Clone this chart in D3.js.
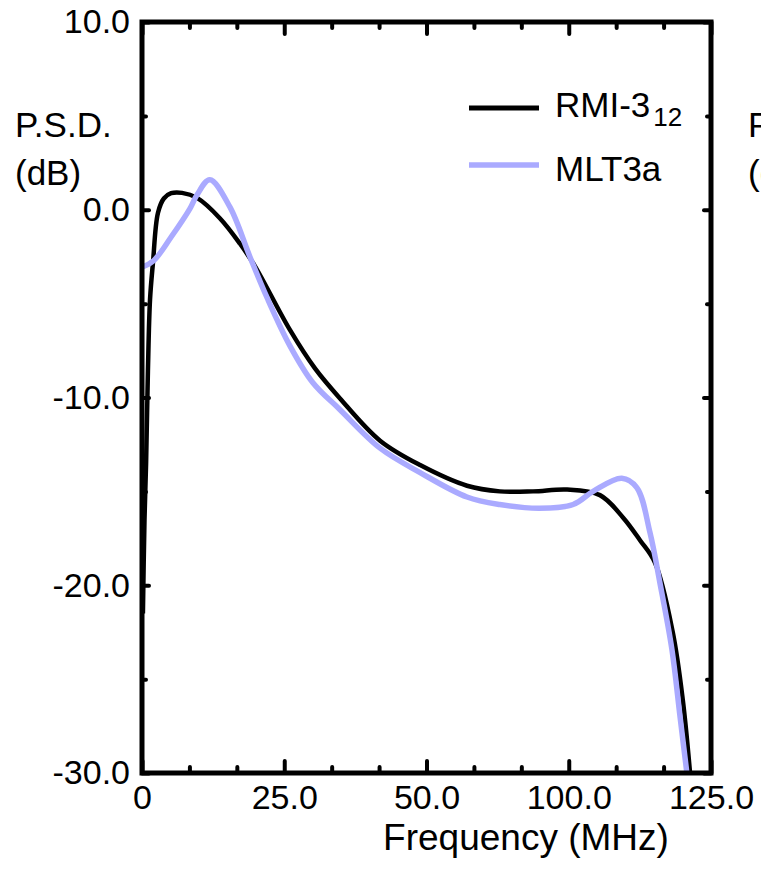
<!DOCTYPE html>
<html>
<head>
<meta charset="utf-8">
<script src="https://cdn.jsdelivr.net/npm/d3@7"></script>
<style>
  body { margin: 0; background: #fff; }
  svg { font-family: "Liberation Sans", Arial, sans-serif; }
</style>
</head>
<body>
<div id="chart"></div>
<script>
// data (x in plot units 0..125, y in dB)
var rmiX = [0.2, 0.55, 0.9, 1.3, 1.76, 2.4, 3.5, 4.8, 6.4, 8.8, 12.1, 17.1, 21.5, 24.8, 32.5, 38, 43.5, 52.3, 61.1, 71.4, 78.6, 85.9, 93.4, 100.6, 105.7, 109.4, 112.7, 116.6, 118.8, 120.4];
var rmiY = [-21.5, -16.5, -13.5, -8.6, -4.8, -2.85, -0.17, 0.6, 0.88, 0.9, 0.63, -0.45, -1.8, -3.0, -6.4, -8.45, -10.05, -12.3, -13.6, -14.7, -15.0, -15.0, -14.9, -15.2, -16.4, -17.6, -18.8, -22.5, -26.1, -30];
var mltX = [0.1, 2.6, 6.4, 10.5, 12.1, 14.9, 19.3, 23.7, 27.5, 32.5, 37.5, 43.5, 52.3, 61.1, 71.4, 78.6, 87.4, 94.7, 99.1, 105.4, 108.7, 111.6, 113.8, 116.4, 118.2, 119.7];
var mltY = [-3.05, -2.7, -1.45, 0.05, 0.8, 1.6, 0.15, -2.5, -4.7, -7.25, -9.2, -10.65, -12.7, -14.0, -15.3, -15.7, -15.9, -15.7, -15.0, -14.3, -14.8, -17.2, -19.9, -23.4, -27, -30];

var xTickLabels = ['0', '25.0', '50.0', '100.0', '125.0'];
var yTickValues = [10, 0, -10, -20, -30];
var seriesNames = ['RMI-3', 'MLT3a'];
var seriesColors = ['#000000', '#aaaaff'];

// set the dimensions of the plot box
var svgWidth = 761, svgHeight = 870;
var plotLeft = 142, plotRight = 711, plotTop = 22, plotBottom = 773;

var svg = d3.select('#chart').append('svg')
    .attr('width', svgWidth)
    .attr('height', svgHeight);

var x = d3.scaleLinear().domain([0, 125]).range([plotLeft, plotRight]);
var y = d3.scaleLinear().domain([-30, 10]).range([plotBottom, plotTop]);

var xMajor = d3.range(0, 5).map(i => i * 125 / 4);
var xMinor = d3.range(0, 13).map(i => i * 125 / 12).filter((d, i) => i % 3 != 0);
var yMinor = [5, -5, -15, -25];

var tickFs = 34, textFs = 35;

// bottom axis
var bottomAxis = d3.axisBottom(x)
    .tickValues(xMajor)
    .tickFormat((d, i) => xTickLabels[i])
    .tickSizeInner(-12).tickSizeOuter(0).tickPadding(12);
svg.append('g')
    .attr('transform', `translate(0, ${plotBottom})`)
    .call(bottomAxis);

// left axis (plain hyphen for the minus sign)
var leftAxis = d3.axisLeft(y)
    .tickValues(yTickValues)
    .tickFormat(d => d.toFixed(1))
    .tickSizeInner(-7).tickSizeOuter(0).tickPadding(12);
svg.append('g')
    .attr('transform', `translate(${plotLeft}, 0)`)
    .call(leftAxis);

// top and right axes, ticks only
svg.append('g')
    .attr('transform', `translate(0, ${plotTop})`)
    .call(d3.axisTop(x).tickValues(xMajor).tickFormat('').tickSizeInner(-12).tickSizeOuter(0));
svg.append('g')
    .attr('transform', `translate(${plotRight}, 0)`)
    .call(d3.axisRight(y).tickValues(yTickValues).tickFormat('').tickSizeInner(-7).tickSizeOuter(0));

// minor ticks
svg.append('g').attr('transform', `translate(0, ${plotBottom})`)
    .call(d3.axisBottom(x).tickValues(xMinor).tickFormat('').tickSizeInner(-6).tickSizeOuter(0));
svg.append('g').attr('transform', `translate(0, ${plotTop})`)
    .call(d3.axisTop(x).tickValues(xMinor).tickFormat('').tickSizeInner(-6).tickSizeOuter(0));
svg.append('g').attr('transform', `translate(${plotLeft}, 0)`)
    .call(d3.axisLeft(y).tickValues(yMinor).tickFormat('').tickSizeInner(-4).tickSizeOuter(0));
svg.append('g').attr('transform', `translate(${plotRight}, 0)`)
    .call(d3.axisRight(y).tickValues(yMinor).tickFormat('').tickSizeInner(-4).tickSizeOuter(0));

svg.selectAll('.domain').remove();
svg.selectAll('.tick line')
    .attr('stroke', '#000')
    .attr('stroke-width', 4)
    .attr('stroke-linecap', 'round');
svg.selectAll('.tick text')
    .attr('fill', '#000')
    .attr('font-size', tickFs + 'px')
    .attr('font-family', '"Liberation Sans", Arial, sans-serif');

// lines
var line = d3.line()
    .x(d => x(d[0]))
    .y(d => y(d[1]))
    .curve(d3.curveCatmullRom.alpha(0.5));

var plot = svg.append('g');
plot.append('path')
    .datum(rmiX.map((d, i) => [d, rmiY[i]]))
    .attr('d', line)
    .attr('fill', 'none')
    .attr('stroke', seriesColors[0])
    .attr('stroke-width', 4.5);
plot.append('path')
    .datum(mltX.map((d, i) => [d, mltY[i]]))
    .attr('d', line)
    .attr('fill', 'none')
    .attr('stroke', seriesColors[1])
    .attr('stroke-width', 5.5);

// frame
svg.append('rect')
    .attr('x', plotLeft).attr('y', plotTop)
    .attr('width', plotRight - plotLeft).attr('height', plotBottom - plotTop)
    .attr('fill', 'none')
    .attr('stroke', '#000')
    .attr('stroke-width', 5);

// axis titles
var yTitle = svg.append('text').attr('font-size', textFs + 'px');
yTitle.append('tspan').attr('x', 15).attr('y', 137).text('P.S.D.');
yTitle.append('tspan').attr('x', 15).attr('y', 185).text('(dB)');

// cut-off title of the next panel
var yTitle2 = svg.append('text').attr('font-size', textFs + 'px');
yTitle2.append('tspan').attr('x', 748).attr('y', 137).text('P.S.D.');
yTitle2.append('tspan').attr('x', 748).attr('y', 185).text('(dB)');

svg.append('text')
    .attr('x', 526).attr('y', 850)
    .attr('text-anchor', 'middle')
    .attr('font-size', '37px')
    .text('Frequency (MHz)');

// legend
var legendY = [108, 165];
seriesNames.forEach(function(name, i) {
    svg.append('line')
        .attr('x1', 469).attr('x2', 539)
        .attr('y1', legendY[i]).attr('y2', legendY[i])
        .attr('stroke', seriesColors[i])
        .attr('stroke-width', i == 0 ? 5 : 5.5);
    var t = svg.append('text')
        .attr('x', 555).attr('y', legendY[i] + (i == 0 ? 9 : 16))
        .attr('font-size', textFs + 'px')
        .text(name);
    if (i == 0) {
        t.append('tspan')
            .attr('dx', 3)
            .attr('dy', 9)
            .attr('font-size', '26px')
            .text('12');
    }
});
</script>
</body>
</html>
